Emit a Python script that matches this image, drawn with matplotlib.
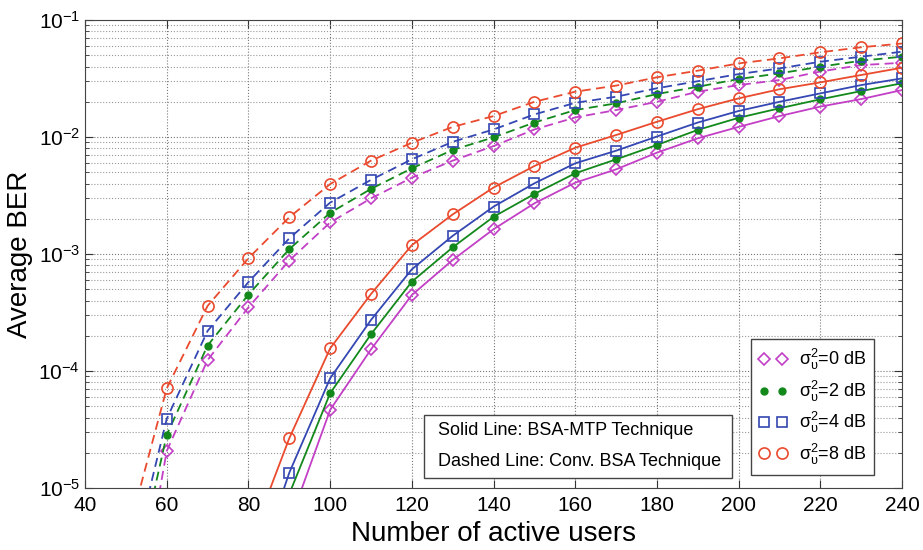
import numpy as np
import matplotlib
matplotlib.use("Agg")
import matplotlib.pyplot as plt
from matplotlib.lines import Line2D
from matplotlib.patches import Rectangle

plt.rcParams['font.family'] = ['Liberation Sans', 'DejaVu Sans']
plt.rcParams['mathtext.fontset'] = 'custom'
plt.rcParams['mathtext.rm'] = 'Liberation Sans'
plt.rcParams['mathtext.it'] = 'Liberation Sans'
plt.rcParams['mathtext.default'] = 'regular'

# number of active users
x_conv = [50, 60, 70, 80, 90, 100, 110, 120, 130, 140, 150, 160, 170, 180, 190, 200, 210, 220, 230, 240]
x_mtp = [80, 90, 100, 110, 120, 130, 140, 150, 160, 170, 180, 190, 200, 210, 220, 230, 240]

# dashed: conventional BSA
conv_0 = [2.2e-7, 2.07e-5, 1.24e-4, 3.5e-4, 8.8e-4, 1.86e-3, 2.99e-3, 4.49e-3, 6.28e-3, 8.37e-3,
          1.16e-2, 1.47e-2, 1.7e-2, 2.0e-2, 2.44e-2, 2.78e-2, 3.07e-2, 3.63e-2, 4.12e-2, 4.31e-2]
conv_2 = [7.8e-7, 2.84e-5, 1.65e-4, 4.5e-4, 1.1e-3, 2.25e-3, 3.6e-3, 5.4e-3, 7.75e-3, 9.93e-3,
          1.33e-2, 1.7e-2, 1.94e-2, 2.33e-2, 2.69e-2, 3.13e-2, 3.5e-2, 3.99e-2, 4.49e-2, 4.86e-2]
conv_4 = [1.4e-6, 3.9e-5, 2.2e-4, 5.75e-4, 1.36e-3, 2.75e-3, 4.3e-3, 6.45e-3, 9.1e-3, 1.16e-2,
          1.56e-2, 1.96e-2, 2.21e-2, 2.61e-2, 3.0e-2, 3.45e-2, 3.86e-2, 4.4e-2, 4.86e-2, 5.36e-2]
conv_8 = [3.5e-6, 7.1e-5, 3.6e-4, 9.2e-4, 2.06e-3, 3.96e-3, 6.28e-3, 8.93e-3, 1.22e-2, 1.51e-2,
          2.0e-2, 2.44e-2, 2.75e-2, 3.24e-2, 3.69e-2, 4.26e-2, 4.7e-2, 5.3e-2, 5.85e-2, 6.3e-2]

# solid: BSA-MTP
mtp_0 = [2.5e-7, 5.0e-6, 4.65e-5, 1.53e-4, 4.46e-4, 8.89e-4, 1.63e-3, 2.71e-3, 4.07e-3, 5.29e-3,
         7.35e-3, 9.75e-3, 1.22e-2, 1.51e-2, 1.82e-2, 2.11e-2, 2.52e-2]
mtp_2 = [5e-7, 8.9e-6, 6.45e-5, 2.06e-4, 5.8e-4, 1.14e-3, 2.08e-3, 3.26e-3, 4.9e-3, 6.44e-3,
         8.55e-3, 1.15e-2, 1.46e-2, 1.76e-2, 2.1e-2, 2.47e-2, 2.88e-2]
mtp_4 = [1.26e-6, 1.35e-5, 8.66e-5, 2.73e-4, 7.4e-4, 1.43e-3, 2.54e-3, 4.02e-3, 5.96e-3, 7.64e-3,
         1.01e-2, 1.33e-2, 1.67e-2, 2.0e-2, 2.36e-2, 2.78e-2, 3.17e-2]
mtp_8 = [3.2e-6, 2.66e-5, 1.56e-4, 4.55e-4, 1.19e-3, 2.18e-3, 3.7e-3, 5.65e-3, 8.1e-3, 1.04e-2,
         1.35e-2, 1.73e-2, 2.14e-2, 2.56e-2, 2.93e-2, 3.39e-2, 3.91e-2]

labels = ['0', '2', '4', '8']
colors = ['#c23fc6', '#13891c', '#3447b2', '#ea4a2d']
conv_all = [conv_0, conv_2, conv_4, conv_8]
mtp_all = [mtp_0, mtp_2, mtp_4, mtp_8]

fig = plt.figure(figsize=(9.23, 5.5), dpi=100)
ax = fig.add_axes([0.0921, 0.1127, 0.8852, 0.8509])


def marker_style(i):
    if i == 1:
        return dict(marker='o', ms=5, mfc=colors[i], mec=colors[i])
    if i == 0:
        return dict(marker='D', ms=6, mfc='none', mec=colors[i], mew=1.2)
    if i == 2:
        return dict(marker='s', ms=7, mfc='none', mec=colors[i], mew=1.2)
    return dict(marker='o', ms=8, mfc='none', mec=colors[i], mew=1.2)


for i in range(4):
    ax.plot(x_conv, conv_all[i], color=colors[i], lw=1.3, ls=(0, (5, 3)), **marker_style(i))
    ax.plot(x_mtp, mtp_all[i], color=colors[i], lw=1.3, ls='-', **marker_style(i))

ax.set_yscale('log')
ax.set_xlim(40, 240)
ax.set_ylim(1e-5, 1e-1)
ax.set_xticks(np.arange(40, 241, 20))

ax.grid(True, which='major', ls=':', color='#777777', lw=0.8)
ax.grid(True, which='minor', axis='y', ls=':', color='#999999', lw=0.8)
ax.tick_params(which='both', direction='in', top=True, right=True, labelsize=15, colors='#333333')
ax.tick_params(axis='both', labelcolor='black')
ax.tick_params(which='major', length=6)
ax.tick_params(which='minor', length=3)
ax.tick_params(axis='x', pad=6)
for sp in ax.spines.values():
    sp.set_color('#444444')

ax.set_xlabel('Number of active users', fontsize=20, labelpad=4)
ax.set_ylabel('Average BER', fontsize=20, labelpad=4)

handles = []
for i in range(4):
    handles.append(Line2D([], [], ls='none', **marker_style(i)))
leg_labels = [r'$\sigma_{\upsilon}^{2}$=' + l + ' dB' for l in labels]
leg = ax.legend(handles, leg_labels, numpoints=2, loc='upper left', bbox_to_anchor=(0.815, 0.318),
                borderaxespad=0, fontsize=13, fancybox=False, edgecolor='#444444', framealpha=1,
                handlelength=1.6, handletextpad=0.6, labelspacing=0.35, borderpad=0.45)
leg.get_frame().set_linewidth(1.0)

ax.add_patch(Rectangle((0.415, 0.0214), 0.377, 0.135, transform=ax.transAxes, fill=True,
                       facecolor='white', edgecolor='#444444', lw=1.0, zorder=5))
ax.text(0.432, 0.122, 'Solid Line: BSA-MTP Technique', transform=ax.transAxes,
        fontsize=13, va='center', ha='left', zorder=6)
ax.text(0.432, 0.0577, 'Dashed Line: Conv. BSA Technique', transform=ax.transAxes,
        fontsize=13, va='center', ha='left', zorder=6)

fig.savefig('out.png', dpi=100)
